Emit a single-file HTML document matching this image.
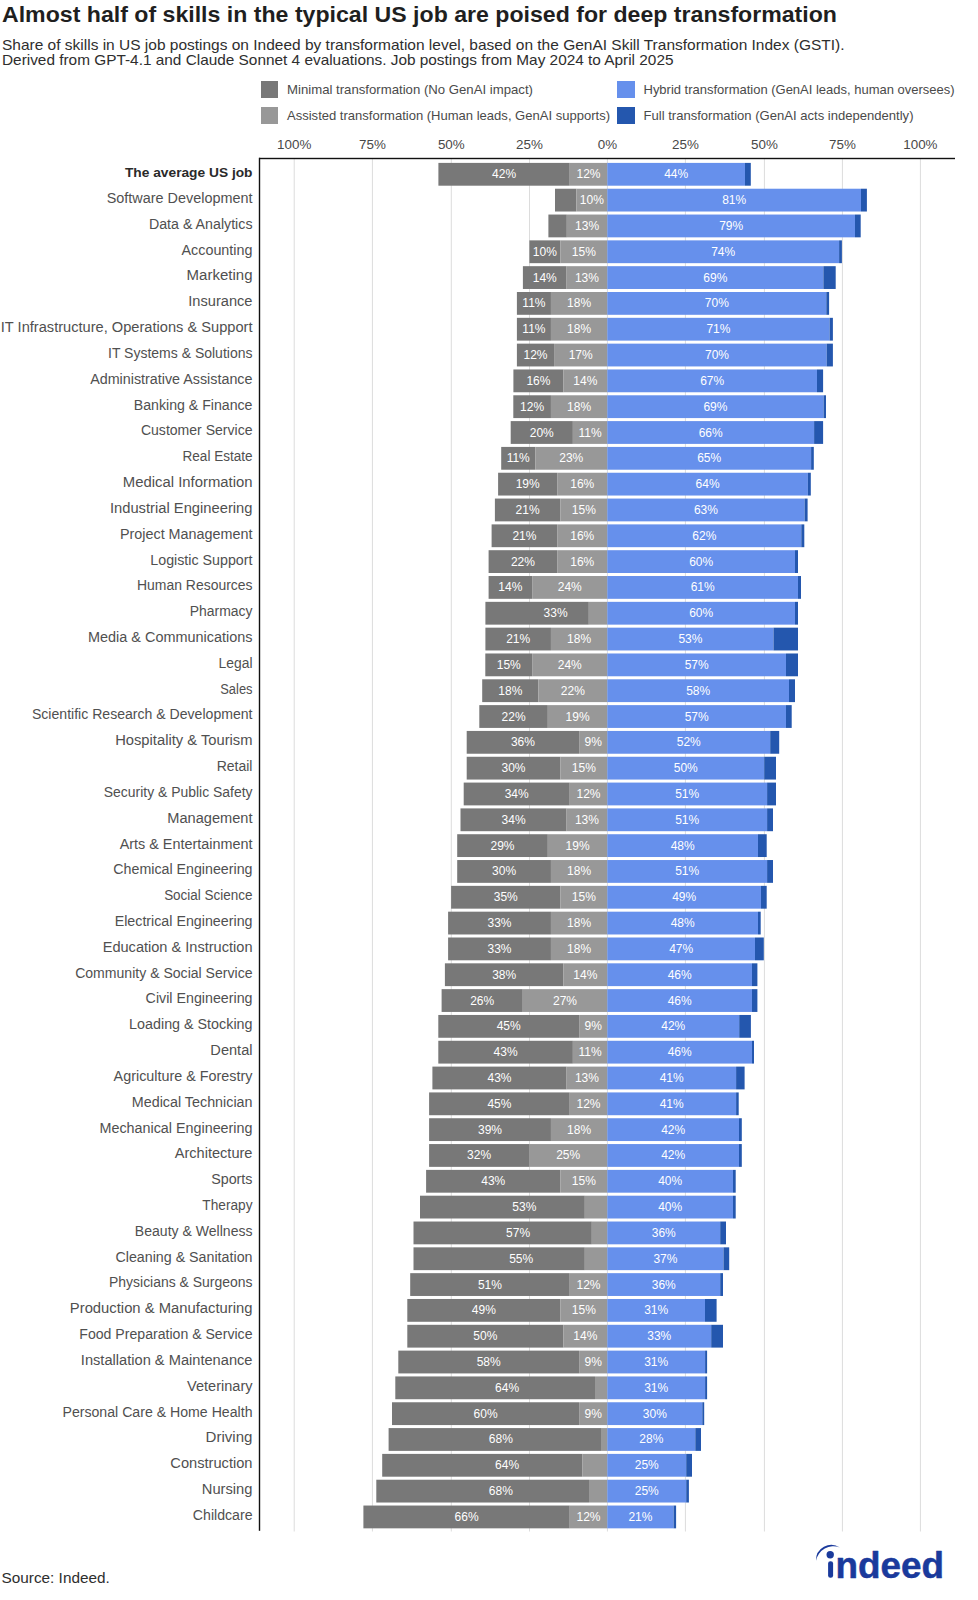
<!DOCTYPE html><html><head><meta charset="utf-8"><style>html,body{margin:0;padding:0;background:#fff;}svg{display:block;}text{font-family:"Liberation Sans",sans-serif;}</style></head><body>
<svg width="978" height="1600" viewBox="0 0 978 1600">
<rect x="0" y="0" width="978" height="1600" fill="#fff"/>
<text x="2" y="21.7" font-size="21.5" fill="#1f1f1f" font-weight="bold" textLength="835" lengthAdjust="spacingAndGlyphs">Almost half of skills in the typical US job are poised for deep transformation</text>
<text x="2" y="49.9" font-size="14.4" fill="#2e2e2e" textLength="842.5" lengthAdjust="spacingAndGlyphs">Share of skills in US job postings on Indeed by transformation level, based on the GenAI Skill Transformation Index (GSTI).</text>
<text x="2" y="65.2" font-size="14.4" fill="#2e2e2e" textLength="671.5" lengthAdjust="spacingAndGlyphs">Derived from GPT-4.1 and Claude Sonnet 4 evaluations. Job postings from May 2024 to April 2025</text>
<rect x="261" y="81" width="17" height="17" fill="#787878"/>
<rect x="261" y="107" width="17" height="17" fill="#989898"/>
<rect x="617" y="81" width="18" height="17" fill="#6690ec"/>
<rect x="617" y="107" width="18" height="17" fill="#2457ae"/>
<text x="287" y="93.6" font-size="12.7" fill="#4a4a4a" textLength="246" lengthAdjust="spacingAndGlyphs">Minimal transformation (No GenAI impact)</text>
<text x="287" y="119.6" font-size="12.7" fill="#4a4a4a" textLength="323" lengthAdjust="spacingAndGlyphs">Assisted transformation (Human leads, GenAI supports)</text>
<text x="643.5" y="93.6" font-size="12.7" fill="#4a4a4a" textLength="311" lengthAdjust="spacingAndGlyphs">Hybrid transformation (GenAI leads, human oversees)</text>
<text x="643.5" y="119.6" font-size="12.7" fill="#4a4a4a" textLength="270" lengthAdjust="spacingAndGlyphs">Full transformation (GenAI acts independently)</text>
<rect x="293.70" y="158" width="1" height="1373.5" fill="#dcdcdc"/>
<text x="294.20" y="149.1" font-size="13.4" fill="#484848" text-anchor="middle">100%</text>
<rect x="371.90" y="158" width="1" height="1373.5" fill="#dcdcdc"/>
<text x="372.40" y="149.1" font-size="13.4" fill="#484848" text-anchor="middle">75%</text>
<rect x="450.80" y="158" width="1" height="1373.5" fill="#dcdcdc"/>
<text x="451.30" y="149.1" font-size="13.4" fill="#484848" text-anchor="middle">50%</text>
<rect x="529.00" y="158" width="1" height="1373.5" fill="#dcdcdc"/>
<text x="529.50" y="149.1" font-size="13.4" fill="#484848" text-anchor="middle">25%</text>
<rect x="606.90" y="158" width="1" height="1373.5" fill="#dcdcdc"/>
<text x="607.40" y="149.1" font-size="13.4" fill="#484848" text-anchor="middle">0%</text>
<rect x="684.90" y="158" width="1" height="1373.5" fill="#dcdcdc"/>
<text x="685.40" y="149.1" font-size="13.4" fill="#484848" text-anchor="middle">25%</text>
<rect x="763.90" y="158" width="1" height="1373.5" fill="#dcdcdc"/>
<text x="764.40" y="149.1" font-size="13.4" fill="#484848" text-anchor="middle">50%</text>
<rect x="841.90" y="158" width="1" height="1373.5" fill="#dcdcdc"/>
<text x="842.40" y="149.1" font-size="13.4" fill="#484848" text-anchor="middle">75%</text>
<rect x="919.90" y="158" width="1" height="1373.5" fill="#dcdcdc"/>
<text x="920.40" y="149.1" font-size="13.4" fill="#484848" text-anchor="middle">100%</text>
<rect x="438.40" y="162.90" width="131.33" height="22.8" fill="#787878"/>
<rect x="569.73" y="162.90" width="37.57" height="22.8" fill="#989898"/>
<rect x="607.30" y="162.90" width="137.70" height="22.8" fill="#6690ec"/>
<rect x="745.00" y="162.90" width="5.80" height="22.8" fill="#2457ae"/>
<text x="504.06" y="178.30" font-size="12" fill="#fff" text-anchor="middle">42%</text>
<text x="588.51" y="178.30" font-size="12" fill="#fff" text-anchor="middle">12%</text>
<text x="676.15" y="178.30" font-size="12" fill="#fff" text-anchor="middle">44%</text>
<text x="252.5" y="177.20" font-size="13.3" fill="#2a2a2a" font-weight="bold" text-anchor="end" textLength="127.54" lengthAdjust="spacingAndGlyphs">The average US job</text>
<rect x="555.00" y="188.72" width="21.40" height="22.8" fill="#787878"/>
<rect x="576.40" y="188.72" width="30.90" height="22.8" fill="#989898"/>
<rect x="607.30" y="188.72" width="253.70" height="22.8" fill="#6690ec"/>
<rect x="861.00" y="188.72" width="5.90" height="22.8" fill="#2457ae"/>
<text x="591.85" y="204.12" font-size="12" fill="#fff" text-anchor="middle">10%</text>
<text x="734.15" y="204.12" font-size="12" fill="#fff" text-anchor="middle">81%</text>
<text x="252.5" y="203.02" font-size="14" fill="#505050" text-anchor="end" textLength="145.76" lengthAdjust="spacingAndGlyphs">Software Development</text>
<rect x="548.40" y="214.54" width="18.40" height="22.8" fill="#787878"/>
<rect x="566.80" y="214.54" width="40.50" height="22.8" fill="#989898"/>
<rect x="607.30" y="214.54" width="247.70" height="22.8" fill="#6690ec"/>
<rect x="855.00" y="214.54" width="5.70" height="22.8" fill="#2457ae"/>
<text x="587.05" y="229.94" font-size="12" fill="#fff" text-anchor="middle">13%</text>
<text x="731.15" y="229.94" font-size="12" fill="#fff" text-anchor="middle">79%</text>
<text x="252.5" y="228.84" font-size="14" fill="#505050" text-anchor="end" textLength="103.55" lengthAdjust="spacingAndGlyphs">Data &amp; Analytics</text>
<rect x="529.40" y="240.36" width="30.93" height="22.8" fill="#787878"/>
<rect x="560.33" y="240.36" width="46.97" height="22.8" fill="#989898"/>
<rect x="607.30" y="240.36" width="231.80" height="22.8" fill="#6690ec"/>
<rect x="839.10" y="240.36" width="2.80" height="22.8" fill="#2457ae"/>
<text x="544.87" y="255.76" font-size="12" fill="#fff" text-anchor="middle">10%</text>
<text x="583.82" y="255.76" font-size="12" fill="#fff" text-anchor="middle">15%</text>
<text x="723.20" y="255.76" font-size="12" fill="#fff" text-anchor="middle">74%</text>
<text x="252.5" y="254.66" font-size="14" fill="#505050" text-anchor="end" textLength="70.99" lengthAdjust="spacingAndGlyphs">Accounting</text>
<rect x="522.90" y="266.18" width="43.70" height="22.8" fill="#787878"/>
<rect x="566.60" y="266.18" width="40.70" height="22.8" fill="#989898"/>
<rect x="607.30" y="266.18" width="216.10" height="22.8" fill="#6690ec"/>
<rect x="823.40" y="266.18" width="12.30" height="22.8" fill="#2457ae"/>
<text x="544.75" y="281.58" font-size="12" fill="#fff" text-anchor="middle">14%</text>
<text x="586.95" y="281.58" font-size="12" fill="#fff" text-anchor="middle">13%</text>
<text x="715.35" y="281.58" font-size="12" fill="#fff" text-anchor="middle">69%</text>
<text x="252.5" y="280.48" font-size="14" fill="#505050" text-anchor="end" textLength="65.87" lengthAdjust="spacingAndGlyphs">Marketing</text>
<rect x="516.90" y="292.00" width="34.04" height="22.8" fill="#787878"/>
<rect x="550.94" y="292.00" width="56.36" height="22.8" fill="#989898"/>
<rect x="607.30" y="292.00" width="219.00" height="22.8" fill="#6690ec"/>
<rect x="826.30" y="292.00" width="2.80" height="22.8" fill="#2457ae"/>
<text x="533.92" y="307.40" font-size="12" fill="#fff" text-anchor="middle">11%</text>
<text x="579.12" y="307.40" font-size="12" fill="#fff" text-anchor="middle">18%</text>
<text x="716.80" y="307.40" font-size="12" fill="#fff" text-anchor="middle">70%</text>
<text x="252.5" y="306.30" font-size="14" fill="#505050" text-anchor="end" textLength="64.25" lengthAdjust="spacingAndGlyphs">Insurance</text>
<rect x="516.90" y="317.82" width="34.04" height="22.8" fill="#787878"/>
<rect x="550.94" y="317.82" width="56.36" height="22.8" fill="#989898"/>
<rect x="607.30" y="317.82" width="222.30" height="22.8" fill="#6690ec"/>
<rect x="829.60" y="317.82" width="3.30" height="22.8" fill="#2457ae"/>
<text x="533.92" y="333.22" font-size="12" fill="#fff" text-anchor="middle">11%</text>
<text x="579.12" y="333.22" font-size="12" fill="#fff" text-anchor="middle">18%</text>
<text x="718.45" y="333.22" font-size="12" fill="#fff" text-anchor="middle">71%</text>
<text x="252.5" y="332.12" font-size="14" fill="#505050" text-anchor="end" textLength="251.71" lengthAdjust="spacingAndGlyphs">IT Infrastructure, Operations &amp; Support</text>
<rect x="516.90" y="343.64" width="37.17" height="22.8" fill="#787878"/>
<rect x="554.07" y="343.64" width="53.23" height="22.8" fill="#989898"/>
<rect x="607.30" y="343.64" width="219.40" height="22.8" fill="#6690ec"/>
<rect x="826.70" y="343.64" width="6.20" height="22.8" fill="#2457ae"/>
<text x="535.49" y="359.04" font-size="12" fill="#fff" text-anchor="middle">12%</text>
<text x="580.69" y="359.04" font-size="12" fill="#fff" text-anchor="middle">17%</text>
<text x="717.00" y="359.04" font-size="12" fill="#fff" text-anchor="middle">70%</text>
<text x="252.5" y="357.94" font-size="14" fill="#505050" text-anchor="end" textLength="144.47" lengthAdjust="spacingAndGlyphs">IT Systems &amp; Solutions</text>
<rect x="513.40" y="369.46" width="50.07" height="22.8" fill="#787878"/>
<rect x="563.47" y="369.46" width="43.83" height="22.8" fill="#989898"/>
<rect x="607.30" y="369.46" width="209.70" height="22.8" fill="#6690ec"/>
<rect x="817.00" y="369.46" width="6.10" height="22.8" fill="#2457ae"/>
<text x="538.43" y="384.86" font-size="12" fill="#fff" text-anchor="middle">16%</text>
<text x="585.38" y="384.86" font-size="12" fill="#fff" text-anchor="middle">14%</text>
<text x="712.15" y="384.86" font-size="12" fill="#fff" text-anchor="middle">67%</text>
<text x="252.5" y="383.76" font-size="14" fill="#505050" text-anchor="end" textLength="162.35" lengthAdjust="spacingAndGlyphs">Administrative Assistance</text>
<rect x="513.30" y="395.28" width="37.64" height="22.8" fill="#787878"/>
<rect x="550.94" y="395.28" width="56.36" height="22.8" fill="#989898"/>
<rect x="607.30" y="395.28" width="216.30" height="22.8" fill="#6690ec"/>
<rect x="823.60" y="395.28" width="2.40" height="22.8" fill="#2457ae"/>
<text x="532.12" y="410.68" font-size="12" fill="#fff" text-anchor="middle">12%</text>
<text x="579.12" y="410.68" font-size="12" fill="#fff" text-anchor="middle">18%</text>
<text x="715.45" y="410.68" font-size="12" fill="#fff" text-anchor="middle">69%</text>
<text x="252.5" y="409.58" font-size="14" fill="#505050" text-anchor="end" textLength="118.75" lengthAdjust="spacingAndGlyphs">Banking &amp; Finance</text>
<rect x="510.70" y="421.10" width="62.16" height="22.8" fill="#787878"/>
<rect x="572.86" y="421.10" width="34.44" height="22.8" fill="#989898"/>
<rect x="607.30" y="421.10" width="206.80" height="22.8" fill="#6690ec"/>
<rect x="814.10" y="421.10" width="9.00" height="22.8" fill="#2457ae"/>
<text x="541.78" y="436.50" font-size="12" fill="#fff" text-anchor="middle">20%</text>
<text x="590.08" y="436.50" font-size="12" fill="#fff" text-anchor="middle">11%</text>
<text x="710.70" y="436.50" font-size="12" fill="#fff" text-anchor="middle">66%</text>
<text x="252.5" y="435.40" font-size="14" fill="#505050" text-anchor="end" textLength="111.57" lengthAdjust="spacingAndGlyphs">Customer Service</text>
<rect x="501.20" y="446.92" width="34.09" height="22.8" fill="#787878"/>
<rect x="535.29" y="446.92" width="72.01" height="22.8" fill="#989898"/>
<rect x="607.30" y="446.92" width="203.80" height="22.8" fill="#6690ec"/>
<rect x="811.10" y="446.92" width="2.70" height="22.8" fill="#2457ae"/>
<text x="518.24" y="462.32" font-size="12" fill="#fff" text-anchor="middle">11%</text>
<text x="571.29" y="462.32" font-size="12" fill="#fff" text-anchor="middle">23%</text>
<text x="709.20" y="462.32" font-size="12" fill="#fff" text-anchor="middle">65%</text>
<text x="252.5" y="461.22" font-size="14" fill="#505050" text-anchor="end" textLength="69.93" lengthAdjust="spacingAndGlyphs">Real Estate</text>
<rect x="498.10" y="472.74" width="59.10" height="22.8" fill="#787878"/>
<rect x="557.20" y="472.74" width="50.10" height="22.8" fill="#989898"/>
<rect x="607.30" y="472.74" width="200.60" height="22.8" fill="#6690ec"/>
<rect x="807.90" y="472.74" width="2.90" height="22.8" fill="#2457ae"/>
<text x="527.65" y="488.14" font-size="12" fill="#fff" text-anchor="middle">19%</text>
<text x="582.25" y="488.14" font-size="12" fill="#fff" text-anchor="middle">16%</text>
<text x="707.60" y="488.14" font-size="12" fill="#fff" text-anchor="middle">64%</text>
<text x="252.5" y="487.04" font-size="14" fill="#505050" text-anchor="end" textLength="129.64" lengthAdjust="spacingAndGlyphs">Medical Information</text>
<rect x="494.90" y="498.56" width="65.43" height="22.8" fill="#787878"/>
<rect x="560.33" y="498.56" width="46.97" height="22.8" fill="#989898"/>
<rect x="607.30" y="498.56" width="197.30" height="22.8" fill="#6690ec"/>
<rect x="804.60" y="498.56" width="3.00" height="22.8" fill="#2457ae"/>
<text x="527.62" y="513.96" font-size="12" fill="#fff" text-anchor="middle">21%</text>
<text x="583.82" y="513.96" font-size="12" fill="#fff" text-anchor="middle">15%</text>
<text x="705.95" y="513.96" font-size="12" fill="#fff" text-anchor="middle">63%</text>
<text x="252.5" y="512.86" font-size="14" fill="#505050" text-anchor="end" textLength="142.6" lengthAdjust="spacingAndGlyphs">Industrial Engineering</text>
<rect x="491.60" y="524.38" width="65.60" height="22.8" fill="#787878"/>
<rect x="557.20" y="524.38" width="50.10" height="22.8" fill="#989898"/>
<rect x="607.30" y="524.38" width="194.00" height="22.8" fill="#6690ec"/>
<rect x="801.30" y="524.38" width="3.00" height="22.8" fill="#2457ae"/>
<text x="524.40" y="539.78" font-size="12" fill="#fff" text-anchor="middle">21%</text>
<text x="582.25" y="539.78" font-size="12" fill="#fff" text-anchor="middle">16%</text>
<text x="704.30" y="539.78" font-size="12" fill="#fff" text-anchor="middle">62%</text>
<text x="252.5" y="538.68" font-size="14" fill="#505050" text-anchor="end" textLength="132.59" lengthAdjust="spacingAndGlyphs">Project Management</text>
<rect x="488.60" y="550.20" width="68.60" height="22.8" fill="#787878"/>
<rect x="557.20" y="550.20" width="50.10" height="22.8" fill="#989898"/>
<rect x="607.30" y="550.20" width="187.70" height="22.8" fill="#6690ec"/>
<rect x="795.00" y="550.20" width="3.00" height="22.8" fill="#2457ae"/>
<text x="522.90" y="565.60" font-size="12" fill="#fff" text-anchor="middle">22%</text>
<text x="582.25" y="565.60" font-size="12" fill="#fff" text-anchor="middle">16%</text>
<text x="701.15" y="565.60" font-size="12" fill="#fff" text-anchor="middle">60%</text>
<text x="252.5" y="564.50" font-size="14" fill="#505050" text-anchor="end" textLength="102.21" lengthAdjust="spacingAndGlyphs">Logistic Support</text>
<rect x="488.60" y="576.02" width="43.56" height="22.8" fill="#787878"/>
<rect x="532.16" y="576.02" width="75.14" height="22.8" fill="#989898"/>
<rect x="607.30" y="576.02" width="190.70" height="22.8" fill="#6690ec"/>
<rect x="798.00" y="576.02" width="3.00" height="22.8" fill="#2457ae"/>
<text x="510.38" y="591.42" font-size="12" fill="#fff" text-anchor="middle">14%</text>
<text x="569.73" y="591.42" font-size="12" fill="#fff" text-anchor="middle">24%</text>
<text x="702.65" y="591.42" font-size="12" fill="#fff" text-anchor="middle">61%</text>
<text x="252.5" y="590.32" font-size="14" fill="#505050" text-anchor="end" textLength="115.53" lengthAdjust="spacingAndGlyphs">Human Resources</text>
<rect x="485.40" y="601.84" width="103.40" height="22.8" fill="#787878"/>
<rect x="588.80" y="601.84" width="18.50" height="22.8" fill="#989898"/>
<rect x="607.30" y="601.84" width="187.70" height="22.8" fill="#6690ec"/>
<rect x="795.00" y="601.84" width="3.00" height="22.8" fill="#2457ae"/>
<text x="555.64" y="617.24" font-size="12" fill="#fff" text-anchor="middle">33%</text>
<text x="701.15" y="617.24" font-size="12" fill="#fff" text-anchor="middle">60%</text>
<text x="252.5" y="616.14" font-size="14" fill="#505050" text-anchor="end" textLength="62.73" lengthAdjust="spacingAndGlyphs">Pharmacy</text>
<rect x="485.40" y="627.66" width="65.54" height="22.8" fill="#787878"/>
<rect x="550.94" y="627.66" width="56.36" height="22.8" fill="#989898"/>
<rect x="607.30" y="627.66" width="166.20" height="22.8" fill="#6690ec"/>
<rect x="773.50" y="627.66" width="24.50" height="22.8" fill="#2457ae"/>
<text x="518.17" y="643.06" font-size="12" fill="#fff" text-anchor="middle">21%</text>
<text x="579.12" y="643.06" font-size="12" fill="#fff" text-anchor="middle">18%</text>
<text x="690.40" y="643.06" font-size="12" fill="#fff" text-anchor="middle">53%</text>
<text x="252.5" y="641.96" font-size="14" fill="#505050" text-anchor="end" textLength="164.46" lengthAdjust="spacingAndGlyphs">Media &amp; Communications</text>
<rect x="485.30" y="653.48" width="46.86" height="22.8" fill="#787878"/>
<rect x="532.16" y="653.48" width="75.14" height="22.8" fill="#989898"/>
<rect x="607.30" y="653.48" width="178.70" height="22.8" fill="#6690ec"/>
<rect x="786.00" y="653.48" width="12.00" height="22.8" fill="#2457ae"/>
<text x="508.73" y="668.88" font-size="12" fill="#fff" text-anchor="middle">15%</text>
<text x="569.73" y="668.88" font-size="12" fill="#fff" text-anchor="middle">24%</text>
<text x="696.65" y="668.88" font-size="12" fill="#fff" text-anchor="middle">57%</text>
<text x="252.5" y="667.78" font-size="14" fill="#505050" text-anchor="end" textLength="33.95" lengthAdjust="spacingAndGlyphs">Legal</text>
<rect x="482.20" y="679.30" width="56.22" height="22.8" fill="#787878"/>
<rect x="538.42" y="679.30" width="68.88" height="22.8" fill="#989898"/>
<rect x="607.30" y="679.30" width="181.70" height="22.8" fill="#6690ec"/>
<rect x="789.00" y="679.30" width="6.00" height="22.8" fill="#2457ae"/>
<text x="510.31" y="694.70" font-size="12" fill="#fff" text-anchor="middle">18%</text>
<text x="572.86" y="694.70" font-size="12" fill="#fff" text-anchor="middle">22%</text>
<text x="698.15" y="694.70" font-size="12" fill="#fff" text-anchor="middle">58%</text>
<text x="252.5" y="693.60" font-size="14" fill="#505050" text-anchor="end" textLength="32.25" lengthAdjust="spacingAndGlyphs">Sales</text>
<rect x="479.30" y="705.12" width="68.51" height="22.8" fill="#787878"/>
<rect x="547.81" y="705.12" width="59.49" height="22.8" fill="#989898"/>
<rect x="607.30" y="705.12" width="178.70" height="22.8" fill="#6690ec"/>
<rect x="786.00" y="705.12" width="5.70" height="22.8" fill="#2457ae"/>
<text x="513.56" y="720.52" font-size="12" fill="#fff" text-anchor="middle">22%</text>
<text x="577.56" y="720.52" font-size="12" fill="#fff" text-anchor="middle">19%</text>
<text x="696.65" y="720.52" font-size="12" fill="#fff" text-anchor="middle">57%</text>
<text x="252.5" y="719.42" font-size="14" fill="#505050" text-anchor="end" textLength="220.54" lengthAdjust="spacingAndGlyphs">Scientific Research &amp; Development</text>
<rect x="466.70" y="730.94" width="112.42" height="22.8" fill="#787878"/>
<rect x="579.12" y="730.94" width="28.18" height="22.8" fill="#989898"/>
<rect x="607.30" y="730.94" width="162.90" height="22.8" fill="#6690ec"/>
<rect x="770.20" y="730.94" width="9.00" height="22.8" fill="#2457ae"/>
<text x="522.91" y="746.34" font-size="12" fill="#fff" text-anchor="middle">36%</text>
<text x="593.21" y="746.34" font-size="12" fill="#fff" text-anchor="middle">9%</text>
<text x="688.75" y="746.34" font-size="12" fill="#fff" text-anchor="middle">52%</text>
<text x="252.5" y="745.24" font-size="14" fill="#505050" text-anchor="end" textLength="137.33" lengthAdjust="spacingAndGlyphs">Hospitality &amp; Tourism</text>
<rect x="466.70" y="756.76" width="93.63" height="22.8" fill="#787878"/>
<rect x="560.33" y="756.76" width="46.97" height="22.8" fill="#989898"/>
<rect x="607.30" y="756.76" width="156.90" height="22.8" fill="#6690ec"/>
<rect x="764.20" y="756.76" width="11.80" height="22.8" fill="#2457ae"/>
<text x="513.52" y="772.16" font-size="12" fill="#fff" text-anchor="middle">30%</text>
<text x="583.82" y="772.16" font-size="12" fill="#fff" text-anchor="middle">15%</text>
<text x="685.75" y="772.16" font-size="12" fill="#fff" text-anchor="middle">50%</text>
<text x="252.5" y="771.06" font-size="14" fill="#505050" text-anchor="end" textLength="35.8" lengthAdjust="spacingAndGlyphs">Retail</text>
<rect x="463.70" y="782.58" width="106.03" height="22.8" fill="#787878"/>
<rect x="569.73" y="782.58" width="37.57" height="22.8" fill="#989898"/>
<rect x="607.30" y="782.58" width="159.80" height="22.8" fill="#6690ec"/>
<rect x="767.10" y="782.58" width="8.90" height="22.8" fill="#2457ae"/>
<text x="516.71" y="797.98" font-size="12" fill="#fff" text-anchor="middle">34%</text>
<text x="588.51" y="797.98" font-size="12" fill="#fff" text-anchor="middle">12%</text>
<text x="687.20" y="797.98" font-size="12" fill="#fff" text-anchor="middle">51%</text>
<text x="252.5" y="796.88" font-size="14" fill="#505050" text-anchor="end" textLength="148.7" lengthAdjust="spacingAndGlyphs">Security &amp; Public Safety</text>
<rect x="460.50" y="808.40" width="106.10" height="22.8" fill="#787878"/>
<rect x="566.60" y="808.40" width="40.70" height="22.8" fill="#989898"/>
<rect x="607.30" y="808.40" width="159.80" height="22.8" fill="#6690ec"/>
<rect x="767.10" y="808.40" width="5.90" height="22.8" fill="#2457ae"/>
<text x="513.55" y="823.80" font-size="12" fill="#fff" text-anchor="middle">34%</text>
<text x="586.95" y="823.80" font-size="12" fill="#fff" text-anchor="middle">13%</text>
<text x="687.20" y="823.80" font-size="12" fill="#fff" text-anchor="middle">51%</text>
<text x="252.5" y="822.70" font-size="14" fill="#505050" text-anchor="end" textLength="85.25" lengthAdjust="spacingAndGlyphs">Management</text>
<rect x="457.20" y="834.22" width="90.61" height="22.8" fill="#787878"/>
<rect x="547.81" y="834.22" width="59.49" height="22.8" fill="#989898"/>
<rect x="607.30" y="834.22" width="150.70" height="22.8" fill="#6690ec"/>
<rect x="758.00" y="834.22" width="8.70" height="22.8" fill="#2457ae"/>
<text x="502.51" y="849.62" font-size="12" fill="#fff" text-anchor="middle">29%</text>
<text x="577.56" y="849.62" font-size="12" fill="#fff" text-anchor="middle">19%</text>
<text x="682.65" y="849.62" font-size="12" fill="#fff" text-anchor="middle">48%</text>
<text x="252.5" y="848.52" font-size="14" fill="#505050" text-anchor="end" textLength="132.85" lengthAdjust="spacingAndGlyphs">Arts &amp; Entertainment</text>
<rect x="457.20" y="860.04" width="93.74" height="22.8" fill="#787878"/>
<rect x="550.94" y="860.04" width="56.36" height="22.8" fill="#989898"/>
<rect x="607.30" y="860.04" width="159.80" height="22.8" fill="#6690ec"/>
<rect x="767.10" y="860.04" width="5.90" height="22.8" fill="#2457ae"/>
<text x="504.07" y="875.44" font-size="12" fill="#fff" text-anchor="middle">30%</text>
<text x="579.12" y="875.44" font-size="12" fill="#fff" text-anchor="middle">18%</text>
<text x="687.20" y="875.44" font-size="12" fill="#fff" text-anchor="middle">51%</text>
<text x="252.5" y="874.34" font-size="14" fill="#505050" text-anchor="end" textLength="139.18" lengthAdjust="spacingAndGlyphs">Chemical Engineering</text>
<rect x="451.10" y="885.86" width="109.23" height="22.8" fill="#787878"/>
<rect x="560.33" y="885.86" width="46.97" height="22.8" fill="#989898"/>
<rect x="607.30" y="885.86" width="153.70" height="22.8" fill="#6690ec"/>
<rect x="761.00" y="885.86" width="5.70" height="22.8" fill="#2457ae"/>
<text x="505.72" y="901.26" font-size="12" fill="#fff" text-anchor="middle">35%</text>
<text x="583.82" y="901.26" font-size="12" fill="#fff" text-anchor="middle">15%</text>
<text x="684.15" y="901.26" font-size="12" fill="#fff" text-anchor="middle">49%</text>
<text x="252.5" y="900.16" font-size="14" fill="#505050" text-anchor="end" textLength="88.36" lengthAdjust="spacingAndGlyphs">Social Science</text>
<rect x="448.10" y="911.68" width="102.84" height="22.8" fill="#787878"/>
<rect x="550.94" y="911.68" width="56.36" height="22.8" fill="#989898"/>
<rect x="607.30" y="911.68" width="150.70" height="22.8" fill="#6690ec"/>
<rect x="758.00" y="911.68" width="2.70" height="22.8" fill="#2457ae"/>
<text x="499.52" y="927.08" font-size="12" fill="#fff" text-anchor="middle">33%</text>
<text x="579.12" y="927.08" font-size="12" fill="#fff" text-anchor="middle">18%</text>
<text x="682.65" y="927.08" font-size="12" fill="#fff" text-anchor="middle">48%</text>
<text x="252.5" y="925.98" font-size="14" fill="#505050" text-anchor="end" textLength="137.83" lengthAdjust="spacingAndGlyphs">Electrical Engineering</text>
<rect x="448.10" y="937.50" width="102.84" height="22.8" fill="#787878"/>
<rect x="550.94" y="937.50" width="56.36" height="22.8" fill="#989898"/>
<rect x="607.30" y="937.50" width="147.70" height="22.8" fill="#6690ec"/>
<rect x="755.00" y="937.50" width="8.80" height="22.8" fill="#2457ae"/>
<text x="499.52" y="952.90" font-size="12" fill="#fff" text-anchor="middle">33%</text>
<text x="579.12" y="952.90" font-size="12" fill="#fff" text-anchor="middle">18%</text>
<text x="681.15" y="952.90" font-size="12" fill="#fff" text-anchor="middle">47%</text>
<text x="252.5" y="951.80" font-size="14" fill="#505050" text-anchor="end" textLength="149.82" lengthAdjust="spacingAndGlyphs">Education &amp; Instruction</text>
<rect x="444.90" y="963.32" width="118.57" height="22.8" fill="#787878"/>
<rect x="563.47" y="963.32" width="43.83" height="22.8" fill="#989898"/>
<rect x="607.30" y="963.32" width="144.70" height="22.8" fill="#6690ec"/>
<rect x="752.00" y="963.32" width="5.40" height="22.8" fill="#2457ae"/>
<text x="504.18" y="978.72" font-size="12" fill="#fff" text-anchor="middle">38%</text>
<text x="585.38" y="978.72" font-size="12" fill="#fff" text-anchor="middle">14%</text>
<text x="679.65" y="978.72" font-size="12" fill="#fff" text-anchor="middle">46%</text>
<text x="252.5" y="977.62" font-size="14" fill="#505050" text-anchor="end" textLength="177.33" lengthAdjust="spacingAndGlyphs">Community &amp; Social Service</text>
<rect x="441.60" y="989.14" width="81.16" height="22.8" fill="#787878"/>
<rect x="522.76" y="989.14" width="84.54" height="22.8" fill="#989898"/>
<rect x="607.30" y="989.14" width="144.70" height="22.8" fill="#6690ec"/>
<rect x="752.00" y="989.14" width="5.40" height="22.8" fill="#2457ae"/>
<text x="482.18" y="1004.54" font-size="12" fill="#fff" text-anchor="middle">26%</text>
<text x="565.03" y="1004.54" font-size="12" fill="#fff" text-anchor="middle">27%</text>
<text x="679.65" y="1004.54" font-size="12" fill="#fff" text-anchor="middle">46%</text>
<text x="252.5" y="1003.44" font-size="14" fill="#505050" text-anchor="end" textLength="106.88" lengthAdjust="spacingAndGlyphs">Civil Engineering</text>
<rect x="438.30" y="1014.96" width="140.82" height="22.8" fill="#787878"/>
<rect x="579.12" y="1014.96" width="28.18" height="22.8" fill="#989898"/>
<rect x="607.30" y="1014.96" width="131.90" height="22.8" fill="#6690ec"/>
<rect x="739.20" y="1014.96" width="11.70" height="22.8" fill="#2457ae"/>
<text x="508.71" y="1030.36" font-size="12" fill="#fff" text-anchor="middle">45%</text>
<text x="593.21" y="1030.36" font-size="12" fill="#fff" text-anchor="middle">9%</text>
<text x="673.25" y="1030.36" font-size="12" fill="#fff" text-anchor="middle">42%</text>
<text x="252.5" y="1029.26" font-size="14" fill="#505050" text-anchor="end" textLength="123.38" lengthAdjust="spacingAndGlyphs">Loading &amp; Stocking</text>
<rect x="438.30" y="1040.78" width="134.56" height="22.8" fill="#787878"/>
<rect x="572.86" y="1040.78" width="34.44" height="22.8" fill="#989898"/>
<rect x="607.30" y="1040.78" width="144.70" height="22.8" fill="#6690ec"/>
<rect x="752.00" y="1040.78" width="2.00" height="22.8" fill="#2457ae"/>
<text x="505.58" y="1056.18" font-size="12" fill="#fff" text-anchor="middle">43%</text>
<text x="590.08" y="1056.18" font-size="12" fill="#fff" text-anchor="middle">11%</text>
<text x="679.65" y="1056.18" font-size="12" fill="#fff" text-anchor="middle">46%</text>
<text x="252.5" y="1055.08" font-size="14" fill="#505050" text-anchor="end" textLength="42.13" lengthAdjust="spacingAndGlyphs">Dental</text>
<rect x="432.40" y="1066.60" width="134.20" height="22.8" fill="#787878"/>
<rect x="566.60" y="1066.60" width="40.70" height="22.8" fill="#989898"/>
<rect x="607.30" y="1066.60" width="128.80" height="22.8" fill="#6690ec"/>
<rect x="736.10" y="1066.60" width="8.50" height="22.8" fill="#2457ae"/>
<text x="499.50" y="1082.00" font-size="12" fill="#fff" text-anchor="middle">43%</text>
<text x="586.95" y="1082.00" font-size="12" fill="#fff" text-anchor="middle">13%</text>
<text x="671.70" y="1082.00" font-size="12" fill="#fff" text-anchor="middle">41%</text>
<text x="252.5" y="1080.90" font-size="14" fill="#505050" text-anchor="end" textLength="138.86" lengthAdjust="spacingAndGlyphs">Agriculture &amp; Forestry</text>
<rect x="429.10" y="1092.42" width="140.63" height="22.8" fill="#787878"/>
<rect x="569.73" y="1092.42" width="37.57" height="22.8" fill="#989898"/>
<rect x="607.30" y="1092.42" width="128.80" height="22.8" fill="#6690ec"/>
<rect x="736.10" y="1092.42" width="2.60" height="22.8" fill="#2457ae"/>
<text x="499.41" y="1107.82" font-size="12" fill="#fff" text-anchor="middle">45%</text>
<text x="588.51" y="1107.82" font-size="12" fill="#fff" text-anchor="middle">12%</text>
<text x="671.70" y="1107.82" font-size="12" fill="#fff" text-anchor="middle">41%</text>
<text x="252.5" y="1106.72" font-size="14" fill="#505050" text-anchor="end" textLength="120.65" lengthAdjust="spacingAndGlyphs">Medical Technician</text>
<rect x="429.10" y="1118.24" width="121.84" height="22.8" fill="#787878"/>
<rect x="550.94" y="1118.24" width="56.36" height="22.8" fill="#989898"/>
<rect x="607.30" y="1118.24" width="131.70" height="22.8" fill="#6690ec"/>
<rect x="739.00" y="1118.24" width="2.80" height="22.8" fill="#2457ae"/>
<text x="490.02" y="1133.64" font-size="12" fill="#fff" text-anchor="middle">39%</text>
<text x="579.12" y="1133.64" font-size="12" fill="#fff" text-anchor="middle">18%</text>
<text x="673.15" y="1133.64" font-size="12" fill="#fff" text-anchor="middle">42%</text>
<text x="252.5" y="1132.54" font-size="14" fill="#505050" text-anchor="end" textLength="152.97" lengthAdjust="spacingAndGlyphs">Mechanical Engineering</text>
<rect x="429.10" y="1144.06" width="99.92" height="22.8" fill="#787878"/>
<rect x="529.02" y="1144.06" width="78.27" height="22.8" fill="#989898"/>
<rect x="607.30" y="1144.06" width="131.70" height="22.8" fill="#6690ec"/>
<rect x="739.00" y="1144.06" width="2.80" height="22.8" fill="#2457ae"/>
<text x="479.06" y="1159.46" font-size="12" fill="#fff" text-anchor="middle">32%</text>
<text x="568.16" y="1159.46" font-size="12" fill="#fff" text-anchor="middle">25%</text>
<text x="673.15" y="1159.46" font-size="12" fill="#fff" text-anchor="middle">42%</text>
<text x="252.5" y="1158.36" font-size="14" fill="#505050" text-anchor="end" textLength="77.83" lengthAdjust="spacingAndGlyphs">Architecture</text>
<rect x="426.10" y="1169.88" width="134.23" height="22.8" fill="#787878"/>
<rect x="560.33" y="1169.88" width="46.97" height="22.8" fill="#989898"/>
<rect x="607.30" y="1169.88" width="125.70" height="22.8" fill="#6690ec"/>
<rect x="733.00" y="1169.88" width="2.70" height="22.8" fill="#2457ae"/>
<text x="493.22" y="1185.28" font-size="12" fill="#fff" text-anchor="middle">43%</text>
<text x="583.82" y="1185.28" font-size="12" fill="#fff" text-anchor="middle">15%</text>
<text x="670.15" y="1185.28" font-size="12" fill="#fff" text-anchor="middle">40%</text>
<text x="252.5" y="1184.18" font-size="14" fill="#505050" text-anchor="end" textLength="41.3" lengthAdjust="spacingAndGlyphs">Sports</text>
<rect x="420.00" y="1195.70" width="164.80" height="22.8" fill="#787878"/>
<rect x="584.80" y="1195.70" width="22.50" height="22.8" fill="#989898"/>
<rect x="607.30" y="1195.70" width="125.70" height="22.8" fill="#6690ec"/>
<rect x="733.00" y="1195.70" width="2.70" height="22.8" fill="#2457ae"/>
<text x="524.33" y="1211.10" font-size="12" fill="#fff" text-anchor="middle">53%</text>
<text x="670.15" y="1211.10" font-size="12" fill="#fff" text-anchor="middle">40%</text>
<text x="252.5" y="1210.00" font-size="14" fill="#505050" text-anchor="end" textLength="50.17" lengthAdjust="spacingAndGlyphs">Therapy</text>
<rect x="413.50" y="1221.52" width="178.30" height="22.8" fill="#787878"/>
<rect x="591.80" y="1221.52" width="15.50" height="22.8" fill="#989898"/>
<rect x="607.30" y="1221.52" width="112.90" height="22.8" fill="#6690ec"/>
<rect x="720.20" y="1221.52" width="5.80" height="22.8" fill="#2457ae"/>
<text x="518.07" y="1236.92" font-size="12" fill="#fff" text-anchor="middle">57%</text>
<text x="663.75" y="1236.92" font-size="12" fill="#fff" text-anchor="middle">36%</text>
<text x="252.5" y="1235.82" font-size="14" fill="#505050" text-anchor="end" textLength="117.65" lengthAdjust="spacingAndGlyphs">Beauty &amp; Wellness</text>
<rect x="413.50" y="1247.34" width="171.30" height="22.8" fill="#787878"/>
<rect x="584.80" y="1247.34" width="22.50" height="22.8" fill="#989898"/>
<rect x="607.30" y="1247.34" width="116.20" height="22.8" fill="#6690ec"/>
<rect x="723.50" y="1247.34" width="5.70" height="22.8" fill="#2457ae"/>
<text x="521.20" y="1262.74" font-size="12" fill="#fff" text-anchor="middle">55%</text>
<text x="665.40" y="1262.74" font-size="12" fill="#fff" text-anchor="middle">37%</text>
<text x="252.5" y="1261.64" font-size="14" fill="#505050" text-anchor="end" textLength="137.07" lengthAdjust="spacingAndGlyphs">Cleaning &amp; Sanitation</text>
<rect x="410.20" y="1273.16" width="159.53" height="22.8" fill="#787878"/>
<rect x="569.73" y="1273.16" width="37.57" height="22.8" fill="#989898"/>
<rect x="607.30" y="1273.16" width="112.90" height="22.8" fill="#6690ec"/>
<rect x="720.20" y="1273.16" width="2.80" height="22.8" fill="#2457ae"/>
<text x="489.96" y="1288.56" font-size="12" fill="#fff" text-anchor="middle">51%</text>
<text x="588.51" y="1288.56" font-size="12" fill="#fff" text-anchor="middle">12%</text>
<text x="663.75" y="1288.56" font-size="12" fill="#fff" text-anchor="middle">36%</text>
<text x="252.5" y="1287.46" font-size="14" fill="#505050" text-anchor="end" textLength="143.47" lengthAdjust="spacingAndGlyphs">Physicians &amp; Surgeons</text>
<rect x="407.30" y="1298.98" width="153.03" height="22.8" fill="#787878"/>
<rect x="560.33" y="1298.98" width="46.97" height="22.8" fill="#989898"/>
<rect x="607.30" y="1298.98" width="97.70" height="22.8" fill="#6690ec"/>
<rect x="705.00" y="1298.98" width="11.60" height="22.8" fill="#2457ae"/>
<text x="483.82" y="1314.38" font-size="12" fill="#fff" text-anchor="middle">49%</text>
<text x="583.82" y="1314.38" font-size="12" fill="#fff" text-anchor="middle">15%</text>
<text x="656.15" y="1314.38" font-size="12" fill="#fff" text-anchor="middle">31%</text>
<text x="252.5" y="1313.28" font-size="14" fill="#505050" text-anchor="end" textLength="182.67" lengthAdjust="spacingAndGlyphs">Production &amp; Manufacturing</text>
<rect x="407.30" y="1324.80" width="156.17" height="22.8" fill="#787878"/>
<rect x="563.47" y="1324.80" width="43.83" height="22.8" fill="#989898"/>
<rect x="607.30" y="1324.80" width="103.90" height="22.8" fill="#6690ec"/>
<rect x="711.20" y="1324.80" width="11.80" height="22.8" fill="#2457ae"/>
<text x="485.38" y="1340.20" font-size="12" fill="#fff" text-anchor="middle">50%</text>
<text x="585.38" y="1340.20" font-size="12" fill="#fff" text-anchor="middle">14%</text>
<text x="659.25" y="1340.20" font-size="12" fill="#fff" text-anchor="middle">33%</text>
<text x="252.5" y="1339.10" font-size="14" fill="#505050" text-anchor="end" textLength="173.19" lengthAdjust="spacingAndGlyphs">Food Preparation &amp; Service</text>
<rect x="398.30" y="1350.62" width="180.82" height="22.8" fill="#787878"/>
<rect x="579.12" y="1350.62" width="28.18" height="22.8" fill="#989898"/>
<rect x="607.30" y="1350.62" width="97.80" height="22.8" fill="#6690ec"/>
<rect x="705.10" y="1350.62" width="2.00" height="22.8" fill="#2457ae"/>
<text x="488.71" y="1366.02" font-size="12" fill="#fff" text-anchor="middle">58%</text>
<text x="593.21" y="1366.02" font-size="12" fill="#fff" text-anchor="middle">9%</text>
<text x="656.20" y="1366.02" font-size="12" fill="#fff" text-anchor="middle">31%</text>
<text x="252.5" y="1364.92" font-size="14" fill="#505050" text-anchor="end" textLength="171.67" lengthAdjust="spacingAndGlyphs">Installation &amp; Maintenance</text>
<rect x="395.30" y="1376.44" width="199.70" height="22.8" fill="#787878"/>
<rect x="595.00" y="1376.44" width="12.30" height="22.8" fill="#989898"/>
<rect x="607.30" y="1376.44" width="97.80" height="22.8" fill="#6690ec"/>
<rect x="705.10" y="1376.44" width="2.00" height="22.8" fill="#2457ae"/>
<text x="507.11" y="1391.84" font-size="12" fill="#fff" text-anchor="middle">64%</text>
<text x="656.20" y="1391.84" font-size="12" fill="#fff" text-anchor="middle">31%</text>
<text x="252.5" y="1390.74" font-size="14" fill="#505050" text-anchor="end" textLength="65.45" lengthAdjust="spacingAndGlyphs">Veterinary</text>
<rect x="392.00" y="1402.26" width="187.12" height="22.8" fill="#787878"/>
<rect x="579.12" y="1402.26" width="28.18" height="22.8" fill="#989898"/>
<rect x="607.30" y="1402.26" width="95.00" height="22.8" fill="#6690ec"/>
<rect x="702.30" y="1402.26" width="1.90" height="22.8" fill="#2457ae"/>
<text x="485.56" y="1417.66" font-size="12" fill="#fff" text-anchor="middle">60%</text>
<text x="593.21" y="1417.66" font-size="12" fill="#fff" text-anchor="middle">9%</text>
<text x="654.80" y="1417.66" font-size="12" fill="#fff" text-anchor="middle">30%</text>
<text x="252.5" y="1416.56" font-size="14" fill="#505050" text-anchor="end" textLength="190.02" lengthAdjust="spacingAndGlyphs">Personal Care &amp; Home Health</text>
<rect x="388.60" y="1428.08" width="212.40" height="22.8" fill="#787878"/>
<rect x="601.00" y="1428.08" width="6.30" height="22.8" fill="#989898"/>
<rect x="607.30" y="1428.08" width="88.00" height="22.8" fill="#6690ec"/>
<rect x="695.30" y="1428.08" width="5.70" height="22.8" fill="#2457ae"/>
<text x="500.85" y="1443.48" font-size="12" fill="#fff" text-anchor="middle">68%</text>
<text x="651.30" y="1443.48" font-size="12" fill="#fff" text-anchor="middle">28%</text>
<text x="252.5" y="1442.38" font-size="14" fill="#505050" text-anchor="end" textLength="46.9" lengthAdjust="spacingAndGlyphs">Driving</text>
<rect x="382.20" y="1453.90" width="200.30" height="22.8" fill="#787878"/>
<rect x="582.50" y="1453.90" width="24.80" height="22.8" fill="#989898"/>
<rect x="607.30" y="1453.90" width="78.90" height="22.8" fill="#6690ec"/>
<rect x="686.20" y="1453.90" width="5.80" height="22.8" fill="#2457ae"/>
<text x="507.11" y="1469.30" font-size="12" fill="#fff" text-anchor="middle">64%</text>
<text x="646.75" y="1469.30" font-size="12" fill="#fff" text-anchor="middle">25%</text>
<text x="252.5" y="1468.20" font-size="14" fill="#505050" text-anchor="end" textLength="82.17" lengthAdjust="spacingAndGlyphs">Construction</text>
<rect x="376.30" y="1479.72" width="212.70" height="22.8" fill="#787878"/>
<rect x="589.00" y="1479.72" width="18.30" height="22.8" fill="#989898"/>
<rect x="607.30" y="1479.72" width="78.90" height="22.8" fill="#6690ec"/>
<rect x="686.20" y="1479.72" width="2.70" height="22.8" fill="#2457ae"/>
<text x="500.85" y="1495.12" font-size="12" fill="#fff" text-anchor="middle">68%</text>
<text x="646.75" y="1495.12" font-size="12" fill="#fff" text-anchor="middle">25%</text>
<text x="252.5" y="1494.02" font-size="14" fill="#505050" text-anchor="end" textLength="50.71" lengthAdjust="spacingAndGlyphs">Nursing</text>
<rect x="363.40" y="1505.54" width="206.33" height="22.8" fill="#787878"/>
<rect x="569.73" y="1505.54" width="37.57" height="22.8" fill="#989898"/>
<rect x="607.30" y="1505.54" width="66.30" height="22.8" fill="#6690ec"/>
<rect x="673.60" y="1505.54" width="2.50" height="22.8" fill="#2457ae"/>
<text x="466.56" y="1520.94" font-size="12" fill="#fff" text-anchor="middle">66%</text>
<text x="588.51" y="1520.94" font-size="12" fill="#fff" text-anchor="middle">12%</text>
<text x="640.45" y="1520.94" font-size="12" fill="#fff" text-anchor="middle">21%</text>
<text x="252.5" y="1519.84" font-size="14" fill="#505050" text-anchor="end" textLength="59.65" lengthAdjust="spacingAndGlyphs">Childcare</text>
<rect x="259" y="157.8" width="696" height="1.4" fill="#111"/>
<rect x="258.8" y="157.8" width="1.4" height="1373" fill="#111"/>
<text x="1.5" y="1583.4" font-size="15.2" fill="#2e2e2e" textLength="108.3" lengthAdjust="spacingAndGlyphs">Source: Indeed.</text>
<g fill="#1a3a9c">
<rect x="828.1" y="1561.2" width="5" height="16.6" rx="2.3"/>
<circle cx="830.2" cy="1554.8" r="3.7"/>
<path d="M816.0 1560.8 A15.3 15.3 0 0 1 839.9 1547.6 A17.5 17.5 0 0 0 816.0 1560.8 Z"/>
<text x="835.6" y="1577.7" font-size="36.5" font-weight="bold" textLength="108.5" lengthAdjust="spacingAndGlyphs" stroke="#1a3a9c" stroke-width="0.5" stroke-linejoin="round">ndeed</text>
</g>
</svg></body></html>
